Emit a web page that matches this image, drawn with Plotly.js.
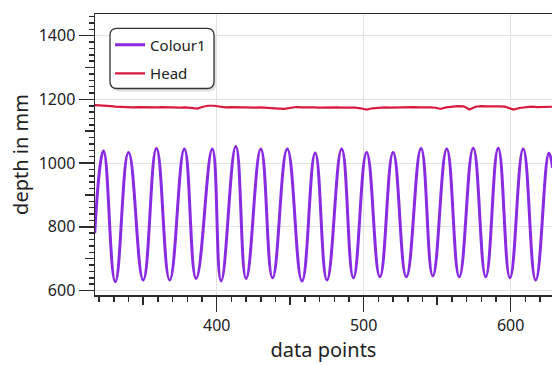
<!DOCTYPE html>
<html>
<head>
<meta charset="utf-8">
<script src="https://cdn.plot.ly/plotly-3.0.1.min.js"></script>
<style>html,body{margin:0;padding:0;background:#fff;}#chart{width:552px;height:365px;}</style>
</head>
<body>
<div id="chart"></div>
<script>
// Colour1: read peaks / troughs (data point index, depth in mm)
const colourX = [317, 323, 331, 340, 350, 359, 368, 378, 386, 397, 403, 413, 420, 430, 438, 448, 458, 467, 475, 485, 493, 502, 511, 520, 529, 539, 547, 556.5, 565, 574.5, 583, 591.5, 599.5, 608.5, 617, 626, 628.5];
const colourY = [780, 1038, 628, 1033, 633, 1046, 633, 1044, 638, 1044, 630, 1052, 638, 1044, 640, 1044, 630, 1032, 633, 1044, 640, 1033, 643, 1033, 643, 1046, 646, 1044, 643, 1047, 643, 1047, 640, 1044, 633, 1031, 985];

// Head
const headX = [317, 321, 325, 328, 331, 335, 339, 343, 347, 351, 355, 359, 363, 367, 371, 375, 379, 383, 387, 390, 394, 398, 402, 406, 410, 414, 418, 422, 426, 430, 434, 438, 442, 446, 450, 454, 458, 462, 466, 470, 474, 478, 482, 486, 490, 494, 498, 502, 506, 510, 514, 518, 522, 526, 530, 534, 538, 542, 546, 550, 552, 556, 560, 564, 568, 572, 576, 580, 584, 588, 592, 596, 599, 602, 606, 610, 614, 618, 622, 626, 629];
const headY = [1182, 1181, 1182, 1179, 1177, 1176, 1177, 1175, 1176, 1175, 1176, 1175, 1176, 1175, 1176, 1174, 1175, 1174, 1171, 1176, 1180, 1180, 1177, 1175, 1176, 1175, 1174, 1175, 1174, 1175, 1173, 1172, 1171, 1170, 1174, 1176, 1175, 1176, 1175, 1174, 1175, 1174, 1175, 1174, 1175, 1174, 1172, 1168, 1172, 1174, 1175, 1174, 1175, 1174, 1175, 1176, 1175, 1176, 1175, 1173, 1170, 1175, 1178, 1179, 1178, 1168, 1177, 1179, 1178, 1179, 1178, 1177, 1173, 1168, 1173, 1176, 1177, 1176, 1177, 1176, 1177];

const xRange = [317.2, 628.1];
const yRange = [586, 1468];

const FONT = '"Noto Sans", "Open Sans", sans-serif';
const AX = '#2a2a2a';

// legend box geometry (paper coords)
const plotW = 457, plotH = 281;
const bx0 = 15 / plotW, bx1 = 119 / plotW, byT = (281 - 14.3) / plotH, byB = (281 - 74.5) / plotH;
const rx = 7 / plotW, ry = 7 / plotH;
function rounded(x0, x1, yb, yt) {
  return `M ${x0 + rx},${yt} L ${x1 - rx},${yt} Q ${x1},${yt} ${x1},${yt - ry} L ${x1},${yb + ry} Q ${x1},${yb} ${x1 - rx},${yb} L ${x0 + rx},${yb} Q ${x0},${yb} ${x0},${yb + ry} L ${x0},${yt - ry} Q ${x0},${yt} ${x0 + rx},${yt} Z`;
}
const sdx = 2 / plotW, sdy = 3 / plotH;

const traces = [
  { x: colourX, y: colourY, name: 'Colour1', mode: 'lines', legendgroup: 'a',
    line: { color: '#8a2be2', width: 3, shape: 'spline', smoothing: 1.3 } },
  { x: headX, y: headY, name: 'Head', mode: 'lines', legendgroup: 'b',
    line: { color: '#d81b3f', width: 2.2 } }
];

const tickCommon = { ticks: 'outside', tickcolor: AX, tickwidth: 1.5 };

const layout = {
  width: 552, height: 365,
  margin: { l: 95, r: 0, t: 14, b: 70 },
  paper_bgcolor: '#fff', plot_bgcolor: '#fff',
  font: { family: FONT, color: '#222', size: 15 },
  showlegend: true,
  legend: { x: 0.033, xanchor: 'left', y: 0.948, yanchor: 'top', bgcolor: 'rgba(0,0,0,0)', borderwidth: 0,
            font: { family: FONT, size: 15, color: '#222' }, tracegroupgap: 6, traceorder: 'grouped' },
  xaxis: Object.assign({
    range: xRange, tickmode: 'linear', tick0: 0, dtick: 100, ticklen: 15,
    showline: true, linecolor: AX, linewidth: 1.5, mirror: true,
    showgrid: true, gridcolor: '#e2e2e2', gridwidth: 1, zeroline: false,
    tickfont: { family: FONT, size: 16, color: '#222' },
    minor: { tick0: 0, dtick: 10, ticklen: 5, ticks: 'outside', tickcolor: AX, tickwidth: 1.5, showgrid: false },
    title: { text: 'data points', font: { family: FONT, size: 20, color: '#222' }, standoff: 6 }
  }, tickCommon),
  yaxis: Object.assign({
    range: yRange, tickmode: 'linear', tick0: 0, dtick: 200, ticklen: 15,
    showline: true, linecolor: AX, linewidth: 1.5, mirror: false,
    showgrid: true, gridcolor: '#e2e2e2', gridwidth: 1, zeroline: false,
    tickfont: { family: FONT, size: 16, color: '#222' },
    minor: { tick0: 0, dtick: 20, ticklen: 5, ticks: 'outside', tickcolor: AX, tickwidth: 1.5, showgrid: false },
    title: { text: 'depth in mm', font: { family: FONT, size: 20, color: '#222' }, standoff: 4 }
  }, tickCommon),
  xaxis2: Object.assign({
    overlaying: 'x', anchor: 'y', side: 'bottom', range: xRange, tickmode: 'linear', tick0: 0, dtick: 50,
    ticklen: 9, showticklabels: false, showgrid: false, showline: false, zeroline: false
  }, tickCommon),
  yaxis2: Object.assign({
    overlaying: 'y', anchor: 'x', side: 'left', range: yRange, tickmode: 'linear', tick0: 0, dtick: 100,
    ticklen: 9, showticklabels: false, showgrid: false, showline: false, zeroline: false
  }, tickCommon),
  shapes: [
    { type: 'path', xref: 'paper', yref: 'paper', path: rounded(bx0 + sdx, bx1 + sdx, byB - sdy, byT - sdy),
      fillcolor: 'rgba(0,0,0,0.12)', line: { width: 0 }, layer: 'above' },
    { type: 'path', xref: 'paper', yref: 'paper', path: rounded(bx0, bx1, byB, byT),
      fillcolor: '#fff', line: { color: '#333', width: 1.3 }, layer: 'above' }
  ]
};

// empty helper traces so the overlay tick axes are drawn
traces.push({ x: [], y: [], xaxis: 'x2', yaxis: 'y', showlegend: false, hoverinfo: 'skip' });
traces.push({ x: [], y: [], xaxis: 'x', yaxis: 'y2', showlegend: false, hoverinfo: 'skip' });

Plotly.newPlot('chart', traces, layout, { staticPlot: true, displayModeBar: false });
</script>
</body>
</html>
